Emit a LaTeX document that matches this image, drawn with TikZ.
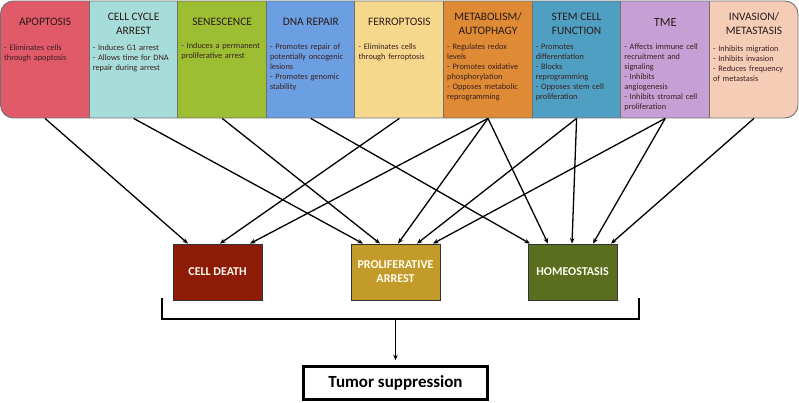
\documentclass[tikz,border=0pt]{standalone}
\usepackage{fontspec}
\setmainfont{Carlito}
\usetikzlibrary{arrows.meta}
\definecolor{capo}{HTML}{E05A69}
\definecolor{ccc}{HTML}{A7DDD8}
\definecolor{csen}{HTML}{9DBE33}
\definecolor{cdna}{HTML}{6C9FE2}
\definecolor{cfer}{HTML}{F6D88C}
\definecolor{cmet}{HTML}{DF8A35}
\definecolor{cstem}{HTML}{4F9FC2}
\definecolor{ctme}{HTML}{C6A0D5}
\definecolor{cinv}{HTML}{F5CDB7}
\definecolor{ccd}{HTML}{8D1B06}
\definecolor{cpa}{HTML}{C29B2B}
\definecolor{cho}{HTML}{5B6D1F}
\definecolor{titlec}{HTML}{2A1A1A}
\definecolor{bodyc}{HTML}{3A2020}
\definecolor{panelline}{HTML}{707070}
\begin{document}
\begin{tikzpicture}[x=1pt,y=-1pt,
  col/.style={rectangle, inner sep=0pt, minimum width=88.6pt, minimum height=117pt, anchor=north west},
  ttl/.style={align=center, font=\fontsize{11.4}{14}\selectfont, text=titlec, inner sep=0pt},
  body/.style={align=left, anchor=north west, font=\fontsize{8.3}{10}\selectfont, text=bodyc, inner sep=0pt, text width=85pt},
  res/.style={rectangle, draw=black!80, line width=0.8pt, minimum width=89pt, minimum height=56pt, text=white!94!yellow, font=\fontsize{12}{14}\selectfont\bfseries, align=center},
  conn/.style={line width=1.3pt, -{Stealth[length=5.5pt,width=4.5pt]}},
]
\useasboundingbox (0,0) rectangle (799,403);
% top panel
\begin{scope}
\clip[rounded corners=13pt] (0.5,1) rectangle (798,118);
\node[col, fill=capo] (apo) at (0.5,1) {};
\node[col, fill=ccc] (cc) at (89.1,1) {};
\node[col, fill=csen] (sen) at (177.7,1) {};
\node[col, fill=cdna] (dna) at (266.3,1) {};
\node[col, fill=cfer] (fer) at (354.9,1) {};
\node[col, fill=cmet] (met) at (443.5,1) {};
\node[col, fill=cstem] (stem) at (532.1,1) {};
\node[col, fill=ctme] (tme) at (620.7,1) {};
\node[col, fill=cinv, minimum width=89pt] (inv) at (709.3,1) {};
\end{scope}
\draw[panelline, line width=0.9pt, rounded corners=13pt] (0.5,1) rectangle (798,118);
\foreach \c in {cc,sen,dna,fer,met,stem,tme,inv}
  \draw[panelline, line width=0.9pt] (\c.north west) -- (\c.south west);
% titles
\node[ttl] at ([yshift=-21pt]apo.north) {APOPTOSIS};
\node[ttl] at ([yshift=-22.5pt]cc.north) {CELL CYCLE\\ARREST};
\node[ttl] at ([yshift=-21pt]sen.north) {SENESCENCE};
\node[ttl] at ([yshift=-21pt]dna.north) {DNA REPAIR};
\node[ttl] at ([yshift=-21pt]fer.north) {FERROPTOSIS};
\node[ttl] at ([yshift=-22.5pt]met.north) {METABOLISM/\\AUTOPHAGY};
\node[ttl] at ([yshift=-22.5pt]stem.north) {STEM CELL\\FUNCTION};
\node[ttl, font=\fontsize{12.5}{14}\selectfont] at ([yshift=-21pt]tme.north) {TME};
\node[ttl] at ([yshift=-22.5pt]inv.north) {INVASION/\\METASTASIS};
% bodies
\node[body] at ([xshift=3.5pt,yshift=-44pt]apo.north west) {- Eliminates cells\\through apoptosis};
\node[body] at ([xshift=3.5pt,yshift=-44pt]cc.north west) {- Induces G1 arrest\\- Allows time for DNA\\repair during arrest};
\node[body] at ([xshift=3.5pt,yshift=-42pt]sen.north west) {- Induces a permanent\\proliferative arrest};
\node[body] at ([xshift=3.5pt,yshift=-43pt]dna.north west) {- Promotes repair of\\potentially oncogenic\\lesions\\- Promotes genomic\\stability};
\node[body] at ([xshift=3.5pt,yshift=-43pt]fer.north west) {- Eliminates cells\\through ferroptosis};
\node[body] at ([xshift=3.5pt,yshift=-43pt]met.north west) {- Regulates redox\\levels\\- Promotes oxidative\\phosphorylation\\- Opposes metabolic\\reprogramming};
\node[body] at ([xshift=3.5pt,yshift=-43pt]stem.north west) {- Promotes\\differentiation\\- Blocks\\reprogramming\\- Opposes stem cell\\proliferation};
\node[body] at ([xshift=3.5pt,yshift=-43pt]tme.north west) {- Affects immune cell\\recruitment and\\signaling\\- Inhibits\\angiogenesis\\- Inhibits stromal cell\\proliferation};
\node[body] at ([xshift=3.5pt,yshift=-45pt]inv.north west) {- Inhibits migration\\- Inhibits invasion\\- Reduces frequency\\of metastasis};
% result boxes
\node[res, fill=ccd] (cd) at (217.5,272) {CELL DEATH};
\node[res, fill=cpa] (pa) at (395.5,272) {PROLIFERATIVE\\ARREST};
\node[res, fill=cho] (ho) at (572.5,272) {HOMEOSTASIS};
% connectors
\draw[conn] (apo.south) -- ([xshift=-29.5pt]cd.north);
\draw[conn] (fer.south) -- ([xshift=2.5pt]cd.north);
\draw[conn] (met.south) -- ([xshift=32.5pt]cd.north);
\draw[conn] (cc.south) -- ([xshift=-32.5pt]pa.north);
\draw[conn] (sen.south) -- ([xshift=-15.5pt]pa.north);
\draw[conn] (met.south) -- ([xshift=2.5pt]pa.north);
\draw[conn] (stem.south) -- ([xshift=21.5pt]pa.north);
\draw[conn] (tme.south) -- ([xshift=37.5pt]pa.north);
\draw[conn] (dna.south) -- ([xshift=-42.5pt]ho.north);
\draw[conn] (met.south) -- ([xshift=-24.5pt]ho.north);
\draw[conn] (stem.south) -- ([xshift=-0.5pt]ho.north);
\draw[conn] (tme.south) -- ([xshift=20.5pt]ho.north);
\draw[conn] (inv.south) -- ([xshift=38.5pt]ho.north);
% bracket and final
\draw[line width=1.3pt] (162,298) -- (162,319) -- (639,319) -- (639,298);
\coordinate (br) at (395.5,319);
\node[rectangle, draw=black, line width=2.5pt, minimum width=184pt, minimum height=33pt, inner sep=0pt, font=\fontsize{17}{18}\selectfont\bfseries] (ts) at (395.5,383) {Tumor suppression};
\draw[conn] (br) -- ([yshift=5pt]ts.north);
\end{tikzpicture}
\end{document}
